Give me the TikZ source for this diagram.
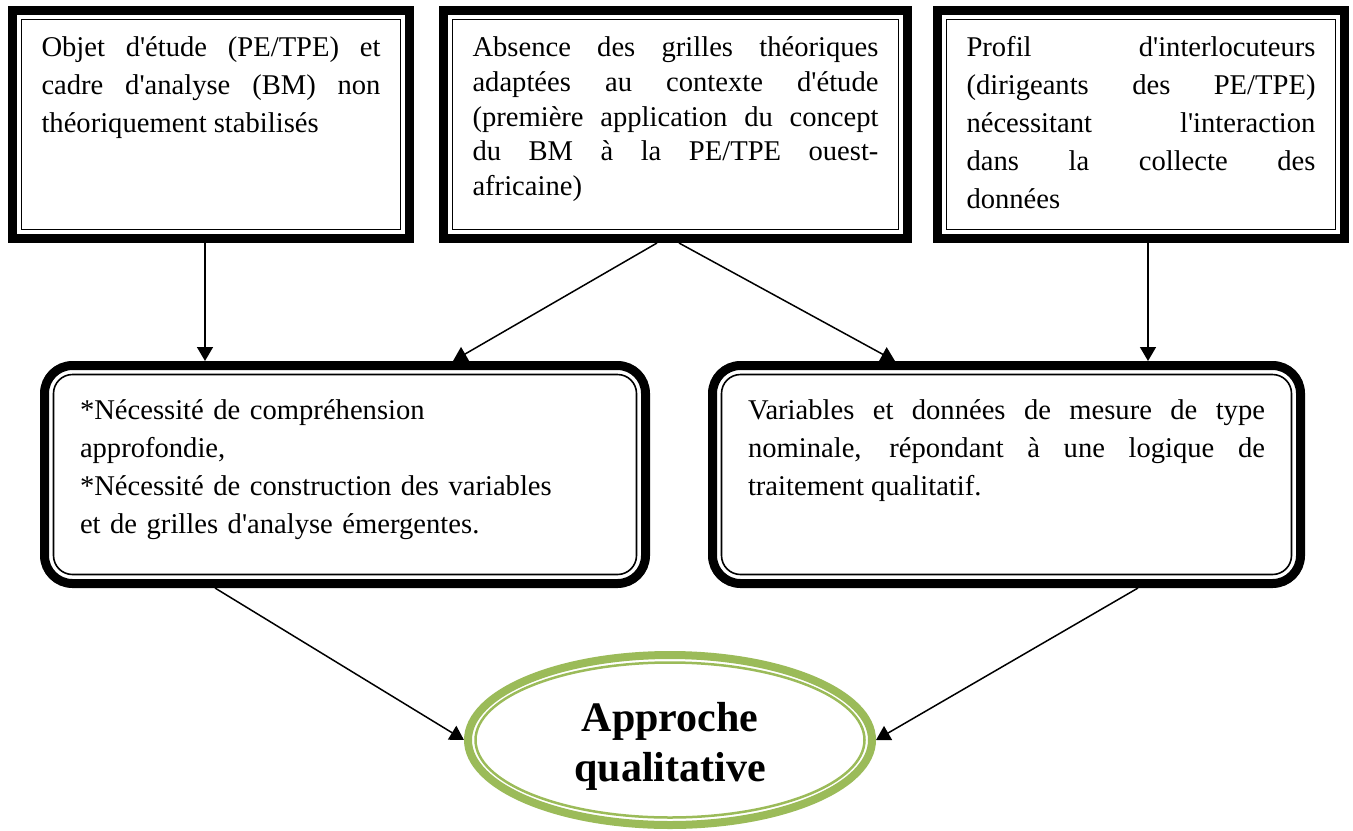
\documentclass[tikz,border=0pt]{standalone}
\usepackage{fontspec}
\defaultfontfeatures[\rmfamily]{}
\setmainfont{Liberation Serif}
\usetikzlibrary{arrows.meta,shapes.geometric}
\definecolor{leafgreen}{HTML}{9BBB59}
\hyphenpenalty=10000
\exhyphenpenalty=10000

\begin{document}
\begin{tikzpicture}[
  txt/.style={font=\fontsize{14.3}{19}\selectfont},
  topbox/.style={draw, line width=4.5pt, txt, align=justify,
    inner xsep=14.5pt, inner ysep=13pt, text height=10pt, text depth=78pt},
  midbox/.style={draw, line width=4.5pt, rounded corners=14pt, txt,
    inner xsep=17.75pt, inner ysep=16.75pt, text height=10pt, text depth=65.5pt},
  goal/.style={ellipse, draw=leafgreen, line width=4pt, minimum width=202pt,
    minimum height=85pt, inner sep=0pt, align=center,
    font=\bfseries\fontsize{21}{25}\selectfont},
  thinline/.style={line width=0.8pt},
  link/.style={-{Triangle[length=7pt,width=8pt]}, line width=0.75pt}
]
  \useasboundingbox (0,0) rectangle (676.5pt,-415pt);

  %% top row
  \node[topbox, text width=169.5pt] (obj) at (105.5pt,-62.25pt)
    {Objet d'étude (PE/TPE) et cadre d'analyse (BM) non théoriquement stabilisés};
  \node[topbox, text width=203pt, font=\fontsize{14.3}{17.4}\selectfont] (abs) at (337.75pt,-62.25pt)
    {Absence des grilles théoriques\linebreak adaptées au contexte d'étude\linebreak (première application du concept\linebreak du BM à la PE/TPE ouest-\linebreak africaine)};
  \node[topbox, text width=174.5pt] (prof) at (570.5pt,-62.25pt)
    {Profil d'interlocuteurs\linebreak (dirigeants des PE/TPE)\linebreak nécessitant l'interaction\linebreak dans la collecte des\linebreak données};

  %% middle row
  \node[midbox, text width=265pt, align=left] (nec) at (172.5pt,-237.25pt)
    {{*}Nécessité de compréhension\\ approfondie,\\ {*}Nécessité de construction des variables\\ et de grilles d'analyse émergentes.};
  \node[midbox, text width=258.5pt, align=justify] (var) at (503.25pt,-237.25pt)
    {Variables et données de mesure de type\linebreak nominale, répondant à une logique de\linebreak traitement qualitatif.};

  %% bottom
  \node[goal] (ell) at (335pt,-370pt) {\rule{0pt}{21pt}Approche\\qualitative};

  %% inner lines
  \foreach \n in {obj,abs,prof}
    \draw[thinline] ([shift={(6.75pt,6.75pt)}]\n.south west) rectangle ([shift={(-6.75pt,-6.75pt)}]\n.north east);
  \foreach \n in {nec,var}
    \draw[thinline, rounded corners=9.5pt] ([shift={(6.75pt,6.75pt)}]\n.south west) rectangle ([shift={(-6.75pt,-6.75pt)}]\n.north east);
  \draw[leafgreen, line width=1.25pt] (ell.center) ellipse [x radius=97.25pt, y radius=38.75pt];

  %% arrows
  \draw[link] ([xshift=-3pt]obj.south) -- ([xshift=-3pt]obj.south |- nec.north);
  \draw[link] ([xshift=-9.25pt]abs.south) -- ([xshift=54pt]nec.north);
  \draw[link] ([xshift=1.75pt]abs.south) -- ([xshift=-55.75pt]var.north);
  \draw[link] ([xshift=3.5pt]prof.south) -- ([xshift=3.5pt]prof.south |- var.north);
  \draw[link] ([xshift=-65pt]nec.south) -- (ell.west);
  \draw[link] ([xshift=65.75pt]var.south) -- (ell.east);
\end{tikzpicture}
\end{document}
